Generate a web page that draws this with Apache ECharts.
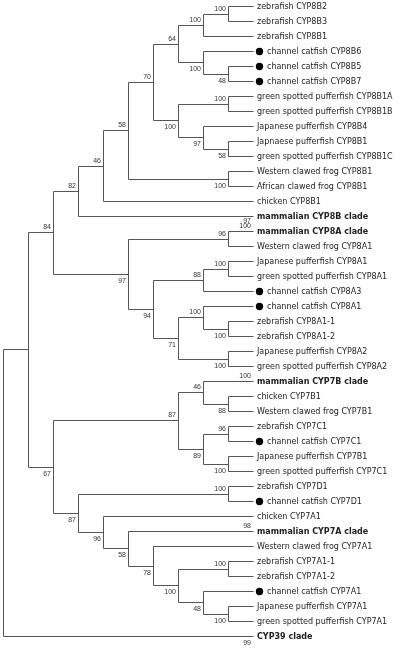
<!DOCTYPE html>
<html>
<head>
<meta charset="utf-8">
<script src="https://cdn.jsdelivr.net/npm/echarts@6/dist/echarts.min.js"></script>
<style>
html,body{margin:0;padding:0;background:#fff;}
#chart{width:400px;height:649px;}
</style>
</head>
<body>
<div id="chart"></div>
<script>
// Leaf (tip) names, top to bottom
const leafNames = [
  "zebrafish CYP8B2",
  "zebrafish CYP8B3",
  "zebrafish CYP8B1",
  "channel catfish CYP8B6",
  "channel catfish CYP8B5",
  "channel catfish CYP8B7",
  "green spotted pufferfish CYP8B1A",
  "green spotted pufferfish CYP8B1B",
  "Japanese pufferfish CYP8B4",
  "Japnaese pufferfish CYP8B1",
  "green spotted pufferfish CYP8B1C",
  "Western clawed frog CYP8B1",
  "African clawed frog CYP8B1",
  "chicken CYP8B1",
  "mammalian CYP8B clade",
  "mammalian CYP8A clade",
  "Western clawed frog CYP8A1",
  "Japanese pufferfish CYP8A1",
  "green spotted pufferfish CYP8A1",
  "channel catfish CYP8A3",
  "channel catfish CYP8A1",
  "zebrafish CYP8A1-1",
  "zebrafish CYP8A1-2",
  "Japanese pufferfish CYP8A2",
  "green spotted pufferfish CYP8A2",
  "mammalian CYP7B clade",
  "chicken CYP7B1",
  "Western clawed frog CYP7B1",
  "zebrafish CYP7C1",
  "channel catfish CYP7C1",
  "Japanese pufferfish CYP7B1",
  "green spotted pufferfish CYP7C1",
  "zebrafish CYP7D1",
  "channel catfish CYP7D1",
  "chicken CYP7A1",
  "mammalian CYP7A clade",
  "Western clawed frog CYP7A1",
  "zebrafish CYP7A1-1",
  "zebrafish CYP7A1-2",
  "channel catfish CYP7A1",
  "Japanese pufferfish CYP7A1",
  "green spotted pufferfish CYP7A1",
  "CYP39 clade"
];
// Collapsed clades shown in bold
const boldLeaves = [14, 15, 25, 35, 42];
// Channel catfish genes marked with a filled circle
const catfishLeaves = [3, 4, 5, 19, 20, 29, 33, 39];
// Topology (leaf indices) with bootstrap support after each clade
const treeNewick =
  "((((((((((0,1)100,2)100,(3,(4,5)48)100)64,((6,7)100,(8,(9,10)58)97)100)70,(11,12)100)58,13)46,14)82," +
  "((15,16)96,(((17,18)100,19)88,((20,(21,22)100)100,(23,24)100)71)94)97)84," +
  "(((25,(26,27)88)46,((28,29)96,(30,31)100)89)87," +
  "((32,33)100,(34,(35,(36,((37,38)100,(39,(40,41)100)48)100)78)58)96)87)67),42)";
// Bootstrap values printed next to collapsed clades: [leaf, value]
const leafSupport = [[15, "100"], [15, "97"], [25, "100"], [35, "98"], [42, "99"]];

function parseTree(s) {
  let i = 0;
  function readNum() { let n = ""; while (i < s.length && /[0-9]/.test(s[i])) n += s[i++]; return n; }
  function node() {
    if (s[i] === "(") {
      i++;
      const kids = [node()];
      while (s[i] === ",") { i++; kids.push(node()); }
      i++;
      return { kids: kids, support: readNum() };
    }
    return { leaf: +readNum() };
  }
  return node();
}
const root = parseTree(treeNewick);
function layout(n) {
  if (n.kids) {
    n.kids.forEach(layout);
    n.h = 1 + Math.max.apply(null, n.kids.map(k => k.h));
    n.y = (n.kids[0].y + n.kids[n.kids.length - 1].y) / 2;
  } else { n.h = 0; n.y = n.leaf; }
}
layout(root);
const maxH = root.h;
const edges = [];
const supports = []; // [x, y, text, side(0 above / 1 below), stack]
function walk(n) {
  n.x = maxH - n.h;
  if (!n.kids) return;
  n.kids.forEach(walk);
  edges.push([n.x, n.kids[0].y, n.x, n.kids[n.kids.length - 1].y]);
  n.kids.forEach((k, ki) => {
    edges.push([n.x, k.y, k.x, k.y]);
    const side = ki === 0 ? 0 : 1;
    if (k.kids && k.support) supports.push([k.x, k.y, k.support, side, 0]);
    if (!k.kids) {
      leafSupport.filter(s => s[0] === k.leaf).forEach((s, si) => supports.push([k.x, k.y, s[1], side, si]));
    }
  });
}
walk(root);
const leafData = leafNames.map((nm, i) => [maxH, i, nm, boldLeaves.indexOf(i) >= 0 ? 1 : 0, catfishLeaves.indexOf(i) >= 0 ? 1 : 0]);

const LINE = "#555";
const chart = echarts.init(document.getElementById("chart"), null, { renderer: "canvas" });
const crisp = v => Math.round(v) + 0.5;
chart.setOption({
  animation: false,
  backgroundColor: "#fff",
  grid: { left: 3, right: 147, top: 6, bottom: 13 },
  xAxis: { type: "value", min: 0, max: maxH, show: false },
  yAxis: { type: "value", min: 0, max: leafNames.length - 1, inverse: true, show: false },
  series: [
    {
      type: "custom",
      data: edges,
      renderItem: function (params, api) {
        const a = api.coord([api.value(0), api.value(1)]);
        const b = api.coord([api.value(2), api.value(3)]);
        return {
          type: "line",
          shape: { x1: crisp(a[0]), y1: crisp(a[1]), x2: crisp(b[0]), y2: crisp(b[1]) },
          style: { stroke: LINE, lineWidth: 1 }
        };
      }
    },
    {
      type: "custom",
      data: supports,
      renderItem: function (params, api) {
        const p = api.coord([api.value(0), api.value(1)]);
        const d = supports[params.dataIndex];
        const dy = d[3] === 0 ? -5 - d[4] * 5 : 7;
        return {
          type: "text",
          x: Math.round(p[0]) - 2,
          y: Math.round(p[1]) + dy,
          style: { text: d[2], font: "7px 'Liberation Sans', Arial, sans-serif", fill: "#333", align: "right", verticalAlign: "middle" }
        };
      }
    },
    {
      type: "custom",
      data: leafData,
      renderItem: function (params, api) {
        const p = api.coord([api.value(0), api.value(1)]);
        const d = leafData[params.dataIndex];
        const children = [];
        let tx = Math.round(p[0]) + 4;
        if (d[4]) {
          children.push({ type: "circle", shape: { cx: Math.round(p[0]) + 6.5, cy: Math.round(p[1]) + 0.5, r: 3.7 }, style: { fill: "#000" } });
          tx = Math.round(p[0]) + 14;
        }
        children.push({
          type: "text", x: tx, y: Math.round(p[1]) + 1,
          style: { text: d[2], font: (d[3] ? "bold " : "") + "8px 'DejaVu Sans', Verdana, sans-serif", fill: "#222", align: "left", verticalAlign: "middle" }
        });
        return { type: "group", children: children };
      }
    }
  ]
});
</script>
</body>
</html>
